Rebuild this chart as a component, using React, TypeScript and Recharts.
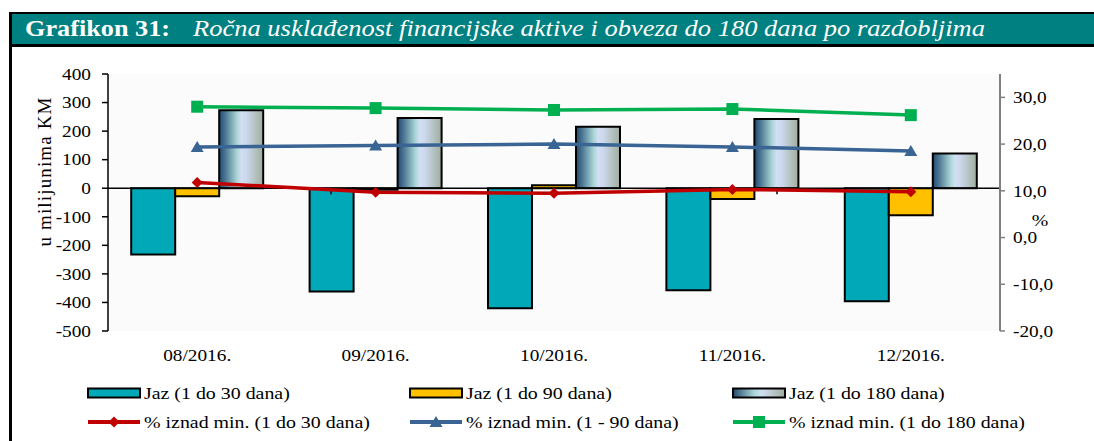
import React from "react";
import {
  ComposedChart, Bar, Line, XAxis, YAxis, CartesianGrid, ReferenceLine,
} from "recharts";

// values
const months = ["08/2016.", "09/2016.", "10/2016.", "11/2016.", "12/2016."];
const jaz30 = [-232, -362, -420, -357, -396];
const jaz90 = [-28, -5, 10, -38, -95];
const jaz180 = [273, 246, 215, 242, 122];
const pct30 = [11.8, 9.7, 9.5, 10.3, 9.8];
const pct90 = [19.4, 19.7, 20.0, 19.4, 18.5];
const pct180 = [28.0, 27.7, 27.3, 27.5, 26.2];

const leftTicks = [-500, -400, -300, -200, -100, 0, 100, 200, 300, 400];
const rightTicks = [-20, -10, 0, 10, 20, 30];
// small marks on the zero line between the months
const dividers = [1, 2, 3, 4, 5];

const data = months.map((m, i) => ({
  month: m,
  jaz30: jaz30[i],
  jaz90: jaz90[i],
  jaz180: jaz180[i],
  pct30: pct30[i],
  pct90: pct90[i],
  pct180: pct180[i],
}));

const SERIF = "Liberation Serif";
const STRETCH = 1.17;
const CYAN = "#00A8B8";
const YELLOW = "#FFC000";
const RED = "#C00000";
const BLUE = "#3A6494";
const GREEN = "#00B050";
const TEAL = "#008080";

const fmtPct = (v: number) => v.toFixed(1).replace(".", ",");

// tick text, stretched a little horizontally like the source image
const SerifTick = (props: any) => {
  const { x, y, payload, textAnchor, dy, fmt } = props;
  const label = fmt ? fmt(payload.value) : payload.value;
  return (
    <g transform={`translate(${x},${y}) scale(${STRETCH},1)`}>
      <text x={0} y={0} dy={dy} textAnchor={textAnchor} style={{ fontFamily: SERIF }} fontSize={16.5} fill="#000">
        {label}
      </text>
    </g>
  );
};

const Diamond = (props: any) => {
  const { cx, cy } = props;
  if (cx == null || cy == null) return null;
  return <polygon points={`${cx},${cy - 5.5} ${cx + 5.5},${cy} ${cx},${cy + 5.5} ${cx - 5.5},${cy}`} fill={RED} />;
};
const Triangle = (props: any) => {
  const { cx, cy } = props;
  if (cx == null || cy == null) return null;
  return <polygon points={`${cx},${cy - 6} ${cx + 6.5},${cy + 5} ${cx - 6.5},${cy + 5}`} fill={BLUE} />;
};
const Square = (props: any) => {
  const { cx, cy } = props;
  if (cx == null || cy == null) return null;
  return <rect x={cx - 6} y={cy - 6} width={12} height={12} fill={GREEN} />;
};

const legendCols = [88, 410, 733];
const legendRows = [393, 422];

const barItems = [
  { label: "Jaz (1 do 30 dana)", fill: CYAN },
  { label: "Jaz (1 do 90 dana)", fill: YELLOW },
  { label: "Jaz (1 do 180 dana)", fill: "url(#grad180leg)" },
];
const lineItems = [
  { label: "% iznad min. (1 do 30 dana)", color: RED, shape: "diamond" },
  { label: "% iznad min. (1 - 90 dana)", color: BLUE, shape: "triangle" },
  { label: "% iznad min. (1 do 180 dana)", color: GREEN, shape: "square" },
];

const LegendBox = () => (
  <svg width={1094} height={441} style={{ position: "absolute", left: 0, top: 0, pointerEvents: "none" }}>
    <defs>
      <linearGradient id="grad180leg" x1="0" y1="0" x2="1" y2="0">
        <stop offset="0" stopColor="#23496E" />
        <stop offset="0.4" stopColor="#A8D4D4" />
        <stop offset="0.55" stopColor="#D2DEF4" />
        <stop offset="1" stopColor="#9FAE9C" />
      </linearGradient>
    </defs>
    {barItems.map((it, i) => (
      <g key={it.label}>
        <rect x={legendCols[i]} y={legendRows[0] - 4.5} width={52} height={9}
          fill={it.fill} stroke="#000" strokeWidth={2} />
        <g transform={`translate(${legendCols[i] + 56},${legendRows[0]}) scale(${STRETCH},1)`}>
          <text x={0} y={0} dy="0.35em" style={{ fontFamily: SERIF }} fontSize={17} fill="#000">{it.label}</text>
        </g>
      </g>
    ))}
    {lineItems.map((it, i) => {
      const x0 = legendCols[i];
      const cx = x0 + 26;
      const cy = legendRows[1];
      return (
        <g key={it.label}>
          <line x1={x0} x2={x0 + 52} y1={cy} y2={cy} stroke={it.color} strokeWidth={4} />
          {it.shape === "diamond" && <Diamond cx={cx} cy={cy} />}
          {it.shape === "triangle" && <Triangle cx={cx} cy={cy} />}
          {it.shape === "square" && <Square cx={cx} cy={cy} />}
          <g transform={`translate(${x0 + 56},${cy}) scale(${STRETCH},1)`}>
            <text x={0} y={0} dy="0.35em" style={{ fontFamily: SERIF }} fontSize={17} fill="#000">{it.label}</text>
          </g>
        </g>
      );
    })}
  </svg>
);

export default function App() {
  return (
    <div style={{ position: "absolute", left: 0, top: 0, width: 1094, height: 441, background: "#fff", overflow: "hidden" }}>
      <ComposedChart
        width={1094}
        height={441}
        data={data}
        margin={{ top: 74, right: 0, bottom: 70, left: 0 }}
        barCategoryGap="13%"
        barGap={0}
      >
        <defs>
          <linearGradient id="grad180" x1="0" y1="0" x2="1" y2="0">
            <stop offset="0" stopColor="#23496E" />
            <stop offset="0.15" stopColor="#4F7A95" />
            <stop offset="0.4" stopColor="#A8D4D4" />
            <stop offset="0.5" stopColor="#D2DEF4" />
            <stop offset="0.62" stopColor="#CCD8EC" />
            <stop offset="1" stopColor="#9FAE9C" />
          </linearGradient>
        </defs>
        <CartesianGrid horizontal={false} vertical={false} fill="#FBFBFB" />
        <XAxis
          dataKey="month"
          height={40}
          axisLine={false}
          tickLine={false}
          tickSize={0}
          tickMargin={18}
          tick={(p: any) => <SerifTick {...p} dy="0.71em" />}
          interval={0}
        />
        <XAxis xAxisId="pos" type="number" domain={[0, 5]} hide />
        <YAxis
          yAxisId="left"
          width={108}
          domain={[-500, 400]}
          ticks={leftTicks}
          interval={0}
          axisLine={{ stroke: "#000", strokeWidth: 1.5 }}
          tickLine={{ stroke: "#000", strokeWidth: 1.5 }}
          tickSize={6}
          tickMargin={11}
          tick={(p: any) => <SerifTick {...p} dy="0.35em" />}
          label={() => (
            <g transform={`translate(51,172) rotate(-90)`}>
              <text x={0} y={0} textAnchor="middle" style={{ fontFamily: SERIF }} fontSize={19}
                textLength={149} lengthAdjust="spacing" fill="#000">u milijunima KM</text>
            </g>
          )}
        />
        <YAxis
          yAxisId="right"
          orientation="right"
          width={94}
          domain={[-20, 35]}
          ticks={rightTicks}
          interval={0}
          axisLine={{ stroke: "#808080", strokeWidth: 2 }}
          tickLine={{ stroke: "#808080", strokeWidth: 1.5 }}
          tickSize={5}
          tickMargin={8}
          tick={(p: any) => <SerifTick {...p} dy="0.35em" fmt={fmtPct} />}
          label={() => (
            <g transform={`translate(1040,220) scale(${STRETCH},1)`}>
              <text x={0} y={0} dy="0.35em" textAnchor="middle" style={{ fontFamily: SERIF }} fontSize={17} fill="#000">%</text>
            </g>
          )}
        />
        <Bar yAxisId="left" dataKey="jaz30" fill={CYAN} stroke="#000" strokeWidth={2} isAnimationActive={false} />
        <Bar yAxisId="left" dataKey="jaz90" fill={YELLOW} stroke="#000" strokeWidth={2} isAnimationActive={false} />
        <Bar yAxisId="left" dataKey="jaz180" fill="url(#grad180)" stroke="#000" strokeWidth={2} isAnimationActive={false} />
        <ReferenceLine yAxisId="left" y={0} stroke="#000" strokeWidth={1.5} />
        {dividers.map((d) => (
          <ReferenceLine key={d} xAxisId="pos" yAxisId="left" segment={[{ x: d, y: 0 }, { x: d, y: -21 }]}
            stroke="#000" strokeWidth={1.5} ifOverflow="visible" />
        ))}
        <Line yAxisId="right" dataKey="pct30" type="linear" stroke={RED} strokeWidth={3.5}
          dot={<Diamond />} activeDot={false} isAnimationActive={false} />
        <Line yAxisId="right" dataKey="pct90" type="linear" stroke={BLUE} strokeWidth={3.5}
          dot={<Triangle />} activeDot={false} isAnimationActive={false} />
        <Line yAxisId="right" dataKey="pct180" type="linear" stroke={GREEN} strokeWidth={3.5}
          dot={<Square />} activeDot={false} isAnimationActive={false} />
      </ComposedChart>

      <LegendBox />

      {/* frame and title bar */}
      <div style={{ position: "absolute", left: 9, top: 12, width: 1100, height: 440, borderTop: "2px solid #000", borderLeft: "3px solid #000", boxSizing: "border-box" }} />
      <svg width={1094} height={50} style={{ position: "absolute", left: 0, top: 0 }}>
        <rect x={12} y={14} width={1082} height={30} fill={TEAL} />
        <rect x={9} y={44} width={1085} height={3} fill="#000" />
        <text x={25} y={36} style={{ fontFamily: SERIF }} fontWeight="bold" fontSize={22.5} fill="#fff"
          textLength={145} lengthAdjust="spacingAndGlyphs">Grafikon 31:</text>
        <text x={193} y={36} style={{ fontFamily: SERIF }} fontStyle="italic" fontSize={22.5} fill="#fff"
          textLength={792} lengthAdjust="spacingAndGlyphs">Ročna usklađenost financijske aktive i obveza do 180 dana po razdobljima</text>
      </svg>
    </div>
  );
}
